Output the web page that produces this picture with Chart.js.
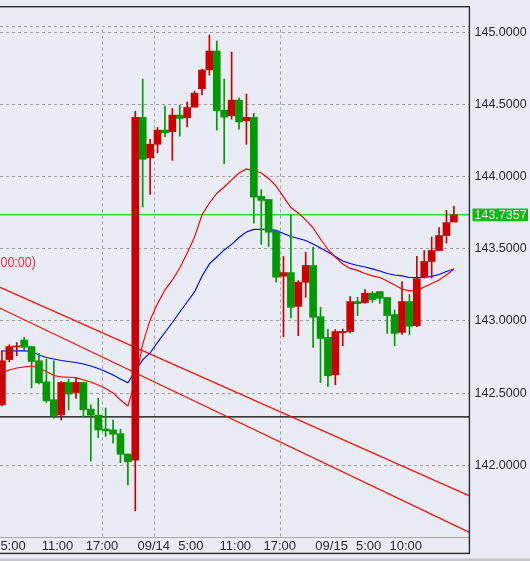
<!DOCTYPE html>
<html>
<head>
<meta charset="utf-8">
<script src="https://cdn.jsdelivr.net/npm/chart.js@4.4.1/dist/chart.umd.min.js"></script>
<style>
html,body{margin:0;padding:0;background:#e9ecf5;overflow:hidden;}
canvas{display:block;}
</style>
</head>
<body>
<canvas id="c" width="530" height="561"></canvas>
<script>
// ---- data (hours counted from 09/13 00:00) ----
const candleHours = [3,4,5,6,7,8,9,10,11,12,13,14,15,16,17,18,19,20,21,22,23,
  24,25,26,27,28,29,30,31,32,33,34,35,36,37,38,39,40,41,42,43,44,45,46,47,
  48,49,50,51,52,53,54,55,56,57,58,59,60,61,62,63,64];
const opens = [142.419,142.732,142.820,142.868,142.822,142.724,142.578,142.454,142.349,142.574,142.504,142.574,142.389,142.347,142.252,142.245,142.219,142.078,142.035,144.410,144.129,
  144.224,144.322,144.310,144.426,144.407,144.481,144.608,144.740,144.870,144.460,144.421,144.530,144.386,144.410,143.863,143.842,143.622,143.310,143.335,143.101,143.268,143.384,143.030,142.886,
  142.627,142.919,142.926,143.134,143.127,143.192,143.203,143.162,143.044,142.921,143.134,142.967,143.303,143.412,143.488,143.592,143.685];
const highs = [142.794,142.835,142.851,142.886,142.825,142.775,142.736,142.724,142.580,142.597,142.604,142.574,142.419,142.465,142.396,142.313,142.250,142.078,144.453,144.674,144.259,
  144.340,144.488,144.472,144.495,144.518,144.592,144.745,144.981,144.940,144.676,144.863,144.546,144.572,144.438,143.910,143.842,143.622,143.447,143.736,143.280,143.476,143.511,143.094,142.944,
  142.940,142.944,143.169,143.164,143.217,143.203,143.203,143.162,143.076,143.273,143.183,143.447,143.488,143.581,143.646,143.766,143.794];
const lows = [142.412,142.716,142.759,142.799,142.535,142.563,142.435,142.326,142.313,142.384,142.463,142.335,142.030,142.192,142.200,142.153,142.018,141.863,141.683,143.789,143.877,
  144.164,144.275,144.113,144.280,144.344,144.481,144.565,144.703,144.322,144.090,144.398,144.328,144.224,143.678,143.530,143.516,143.268,142.891,143.021,142.898,143.164,142.817,142.574,142.546,
  142.558,142.828,142.917,143.037,143.122,143.129,143.122,142.914,142.828,142.907,142.907,142.960,143.296,143.296,143.488,143.539,143.736];
const closes = [142.724,142.822,142.825,142.817,142.719,142.571,142.447,142.342,142.574,142.493,142.574,142.384,142.347,142.245,142.238,142.215,142.076,142.025,144.410,144.120,144.224,
  144.322,144.303,144.426,144.403,144.479,144.578,144.738,144.870,144.456,144.412,144.530,144.379,144.410,143.858,143.835,143.615,143.303,143.335,143.094,143.268,143.384,143.025,142.879,142.620,
  142.926,142.928,143.134,143.120,143.192,143.148,143.157,143.037,142.914,143.134,142.963,143.292,143.412,143.488,143.592,143.681,143.736];
const maRed = [142.639,142.660,142.674,142.681,142.688,142.674,142.650,142.622,142.612,142.610,142.607,142.591,142.577,142.556,142.532,142.501,142.452,142.411,142.577,142.840,143.007,
  143.120,143.214,143.284,143.367,143.471,143.582,143.734,143.817,143.883,143.928,143.977,144.025,144.053,144.042,144.025,143.987,143.935,143.859,143.786,143.748,143.700,143.644,143.568,143.495,
  143.443,143.395,143.364,143.350,143.329,143.312,143.301,143.277,143.249,143.221,143.208,143.211,143.235,143.260,143.284,143.318,143.360];
const maBlue = [142.792,142.792,142.793,142.793,142.788,142.764,142.747,142.736,142.726,142.719,142.712,142.702,142.688,142.671,142.650,142.626,142.598,142.572,142.653,142.730,142.778,
  142.851,142.920,142.989,143.062,143.131,143.201,143.309,143.395,143.443,143.492,143.530,143.578,143.616,143.634,143.635,143.634,143.627,143.606,143.585,143.571,143.557,143.533,143.505,143.478,
  143.447,143.415,143.398,143.384,143.374,143.361,143.346,143.329,143.318,143.312,143.301,143.300,143.303,143.309,143.322,143.343,143.360];
const trendUpper = [143.233, 141.789];   // price at left edge, right edge
const trendLower = [143.088, 141.536];
const currentPrice = 143.7357;
const blackLevel = 142.335;
const topDashLevel = 145.04;
const xRange = [3.24, 66.54];
const yRange = [141.503, 145.175];
const yTicks = [142.0, 142.5, 143.0, 143.5, 144.0, 144.5, 145.0];
const xTicks = [5, 11, 17, 24, 29, 35, 41, 48, 53, 58];
const xTickLabels = ['5:00','11:00','17:00','09/14','5:00','11:00','17:00','09/15','5:00','10:00'];
const vGridHours = [17, 24, 41];
const indicatorText = '00:00)';

// ---- styles ----
const UP = '#cc0000', DOWN = '#009900';
const BG = '#e9ecf5';
const FONT = 'Liberation Sans, Arial, sans-serif';

const isUp = i => closes[i] >= opens[i];
const candleColors = candleHours.map((h, i) => isUp(i) ? UP : DOWN);
const wickData = candleHours.map((h, i) => ({x: h + 0.5, y: [lows[i], highs[i]]}));
const bodyData = candleHours.map((h, i) => ({x: h + 0.5, y: [opens[i], closes[i]]}));
const lineOf = arr => candleHours.map((h, i) => ({x: h + 0.5, y: arr[i]}));
const flat = v => [{x: xRange[0], y: v}, {x: xRange[1], y: v}];
const seg = pair => [{x: xRange[0], y: pair[0]}, {x: xRange[1], y: pair[1]}];

const lineDs = (data, color, order, extra) => Object.assign({
  type: 'line', data, borderColor: color, borderWidth: 1.15, pointRadius: 0,
  tension: 0, fill: false, order
}, extra || {});

const decor = {
  id: 'decor',
  beforeDraw(chart) {
    const ctx = chart.ctx;
    ctx.save();
    ctx.fillStyle = BG;
    ctx.fillRect(0, 0, chart.width, chart.height);
    ctx.restore();
  },
  beforeDatasetsDraw(chart) {
    const ctx = chart.ctx, a = chart.chartArea;
    const xs = chart.scales.x, ys = chart.scales.y;
    ctx.save();
    ctx.strokeStyle = '#a0a0a0';
    ctx.lineWidth = 1;
    ctx.setLineDash([3, 3]);
    const top = ys.getPixelForValue(topDashLevel) + 3;
    vGridHours.forEach(h => {
      const px = Math.round(xs.getPixelForValue(h)) + 0.5;
      ctx.beginPath();
      ctx.moveTo(px, top);
      ctx.lineTo(px, a.bottom);
      ctx.stroke();
    });
    ctx.restore();
  },
  afterDraw(chart) {
    const ctx = chart.ctx, a = chart.chartArea;
    const ys = chart.scales.y;
    ctx.save();
    // frame
    ctx.fillStyle = '#2a2a2a';
    ctx.fillRect(0, a.top - 1, a.right + 1, 1.4);
    ctx.fillRect(a.right - 0.3, a.top - 1, 1.4, a.bottom + 17 - a.top);
    ctx.fillRect(0, a.bottom + 15.7, a.right + 1, 1.4);
    // bottom strip
    ctx.fillStyle = '#c4c6cc';
    ctx.fillRect(0, chart.height - 2.5, chart.width, 2.5);
    // current price label
    const py = ys.getPixelForValue(currentPrice);
    ctx.fillStyle = '#00c000';
    ctx.fillRect(a.right + 3.5, py - 6.2, 55.5, 12.6);
    ctx.fillStyle = '#ffffff';
    ctx.font = '12.5px ' + FONT;
    ctx.textBaseline = 'middle';
    ctx.textAlign = 'left';
    ctx.fillText(currentPrice.toFixed(4), a.right + 5.5, py + 0.5);
    // indicator caption
    ctx.fillStyle = '#f0343c';
    ctx.font = '15px ' + FONT;
    ctx.translate(a.left + 0.5, 262.5);
    ctx.scale(0.83, 1);
    ctx.fillText(indicatorText, 0, 0);
    ctx.restore();
  }
};

new Chart(document.getElementById('c'), {
  type: 'bar',
  data: {
    datasets: [
      {type: 'bar', data: bodyData, backgroundColor: candleColors, barThickness: 7,
       grouped: false, minBarLength: 1, order: 0},
      {type: 'bar', data: wickData, backgroundColor: candleColors, barThickness: 1,
       grouped: false, order: 1},
      lineDs(lineOf(maRed), '#ff0000', 2),
      lineDs(lineOf(maBlue), '#0000ff', 3),
      lineDs(seg(trendUpper), '#ff0000', 4),
      lineDs(seg(trendLower), '#ff0000', 5),
      lineDs(flat(currentPrice), '#00c000', 6),
      lineDs(flat(blackLevel), '#000000', 7),
      lineDs(flat(topDashLevel), '#a0a0a0', 8, {borderDash: [3, 3], borderWidth: 1})
    ]
  },
  options: {
    responsive: false,
    animation: false,
    events: [],
    layout: {padding: {top: 7, left: 0, right: 0, bottom: 0}},
    plugins: {legend: {display: false}, tooltip: {enabled: false}},
    scales: {
      x: {
        type: 'linear', min: xRange[0], max: xRange[1], offset: false,
        afterBuildTicks: s => { s.ticks = xTicks.map(v => ({value: v})); },
        afterFit: s => { s.height = 24; s.paddingLeft = 0; s.paddingRight = 0; },
        ticks: {
          autoSkip: false, maxRotation: 0, padding: 2, color: '#262a36',
          font: {size: 13, family: FONT},
          callback: (v, i) => xTickLabels[i]
        },
        grid: {display: false, drawTicks: false},
        border: {display: true, color: '#a8a8a8', width: 1}
      },
      y: {
        type: 'linear', position: 'right', min: yRange[0], max: yRange[1],
        afterBuildTicks: s => { s.ticks = yTicks.map(v => ({value: v})); },
        afterFit: s => { s.width = 61; s.paddingTop = 0; s.paddingBottom = 0; },
        ticks: {
          padding: 5.5, color: '#262a36', font: {size: 12.5, family: FONT},
          callback: v => Number(v).toFixed(4)
        },
        grid: {color: '#a0a0a0', lineWidth: 1, drawTicks: false, borderDash: [3, 3]},
        border: {display: false, dash: [3, 3]}
      }
    }
  },
  plugins: [decor]
});
</script>
</body>
</html>
